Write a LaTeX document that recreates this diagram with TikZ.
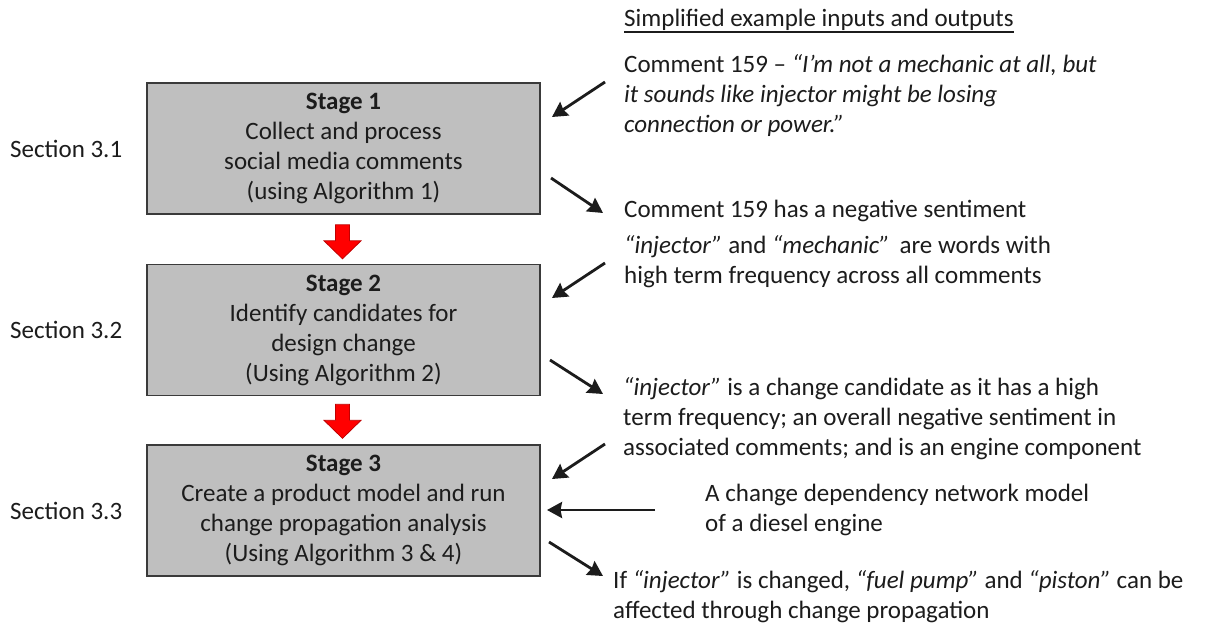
\documentclass[tikz,border=0pt]{standalone}
\usepackage{fontspec}
\setmainfont{Carlito}
\usetikzlibrary{arrows.meta,calc}

\definecolor{ink}{HTML}{1C1C1C}
\definecolor{boxfill}{HTML}{BFBFBF}
\definecolor{boxline}{HTML}{3A3A3A}
\definecolor{flowred}{HTML}{FF0000}
\definecolor{flowedge}{HTML}{C00000}

\tikzset{
  txt/.style={font=\fontsize{25}{30}\selectfont, text=ink, inner sep=0pt},
  stagebox/.style={txt, draw=boxline, line width=1.6pt, fill=boxfill,
    minimum width=393pt, minimum height=131pt, align=center},
  % multi-line notes are anchored at the baseline of their last line
  note/.style={txt, anchor=base west, align=left},
  seclabel/.style={txt, anchor=base west},
  ioarrow/.style={draw=ink, line width=2.8pt,
    -{Stealth[length=15pt,width=16pt,inset=1.5pt]}},
  pics/flowdown/.style={code={
    \draw[draw=flowedge, fill=flowred, line width=0.8pt, line join=miter]
      (-7,0) -- (7,0) -- (7,16) -- (18.5,16) -- (0,34) -- (-18.5,16) -- (-7,16) -- cycle;}}
}

\begin{document}
\begin{tikzpicture}[x=1pt,y=-1pt]
  \fill[white] (0,0) rectangle (1205,627);
  \useasboundingbox (0,0) rectangle (1205,627);

  % stage boxes
  \node[stagebox] (s1) at (343.5,148.5) {\textbf{Stage 1}\\Collect and process\\social media comments\\(using Algorithm 1)};
  \node[stagebox] (s2) at (343.5,330) {\textbf{Stage 2}\\Identify candidates for\\design change\\(Using Algorithm 2)};
  \node[stagebox] (s3) at (343.5,510.5) {\textbf{Stage 3}\\Create a product model and run\\change propagation analysis\\(Using Algorithm 3 \& 4)};

  % red flow arrows between stages
  \pic at ($(s1.south)+(-1,10)$) {flowdown};
  \pic at ($(s2.south)+(-1,8)$) {flowdown};

  % section labels
  \node[seclabel] (sec1) at (10,157) {Section 3.1};
  \node[seclabel] (sec2) at (10,338.5) {Section 3.2};
  \node[seclabel] (sec3) at (10,519) {Section 3.3};

  % example inputs and outputs
  \node[note] (title) at (624,26) {Simplified example inputs and outputs};
  \draw[ink, line width=1.2pt] ($(title.base west)+(0,6)$) -- ($(title.base east)+(0,6)$);

  \node[note] (c159) at (624,132) {Comment 159 – \textit{“I’m not a mechanic at all, but}\\\textit{it sounds like injector might be losing}\\\textit{connection or power.”}};
  \node[note] (neg) at (624,217) {Comment 159 has a negative sentiment};
  \node[note] (freq) at (624,283) {\textit{“injector”} and \textit{“mechanic”}\, are words with\\high term frequency across all comments};
  \node[note] (cand) at (623,455) {\textit{“injector”} is a change candidate as it has a high\\term frequency; an overall negative sentiment in\\associated comments; and is an engine component};
  \node[note] (cdn) at (705,531) {A change dependency network model\\of a diesel engine};
  \node[note] (prop) at (613,618) {If \textit{“injector”} is changed, \textit{“fuel pump”} and \textit{“piston”} can be\\affected through change propagation};

  % arrow end points
  \coordinate (a1s) at (605,82);  \coordinate (a1e) at (552,117);
  \coordinate (a2s) at (551,178); \coordinate (a2e) at (603,213);
  \coordinate (a3s) at (605,263); \coordinate (a3e) at (552,298);
  \coordinate (a4s) at (550,360); \coordinate (a4e) at (603,394);
  \coordinate (a5s) at (605,444); \coordinate (a5e) at (552,479);
  \coordinate (a6s) at (655,510); \coordinate (a6e) at (547,510);
  \coordinate (a7s) at (549,542); \coordinate (a7e) at (603,576);

  \draw[ioarrow] (a1s) -- (a1e);
  \draw[ioarrow] (a2s) -- (a2e);
  \draw[ioarrow] (a3s) -- (a3e);
  \draw[ioarrow] (a4s) -- (a4e);
  \draw[ioarrow] (a5s) -- (a5e);
  \draw[ioarrow] (a6s) -- (a6e);
  \draw[ioarrow] (a7s) -- (a7e);
\end{tikzpicture}
\end{document}
